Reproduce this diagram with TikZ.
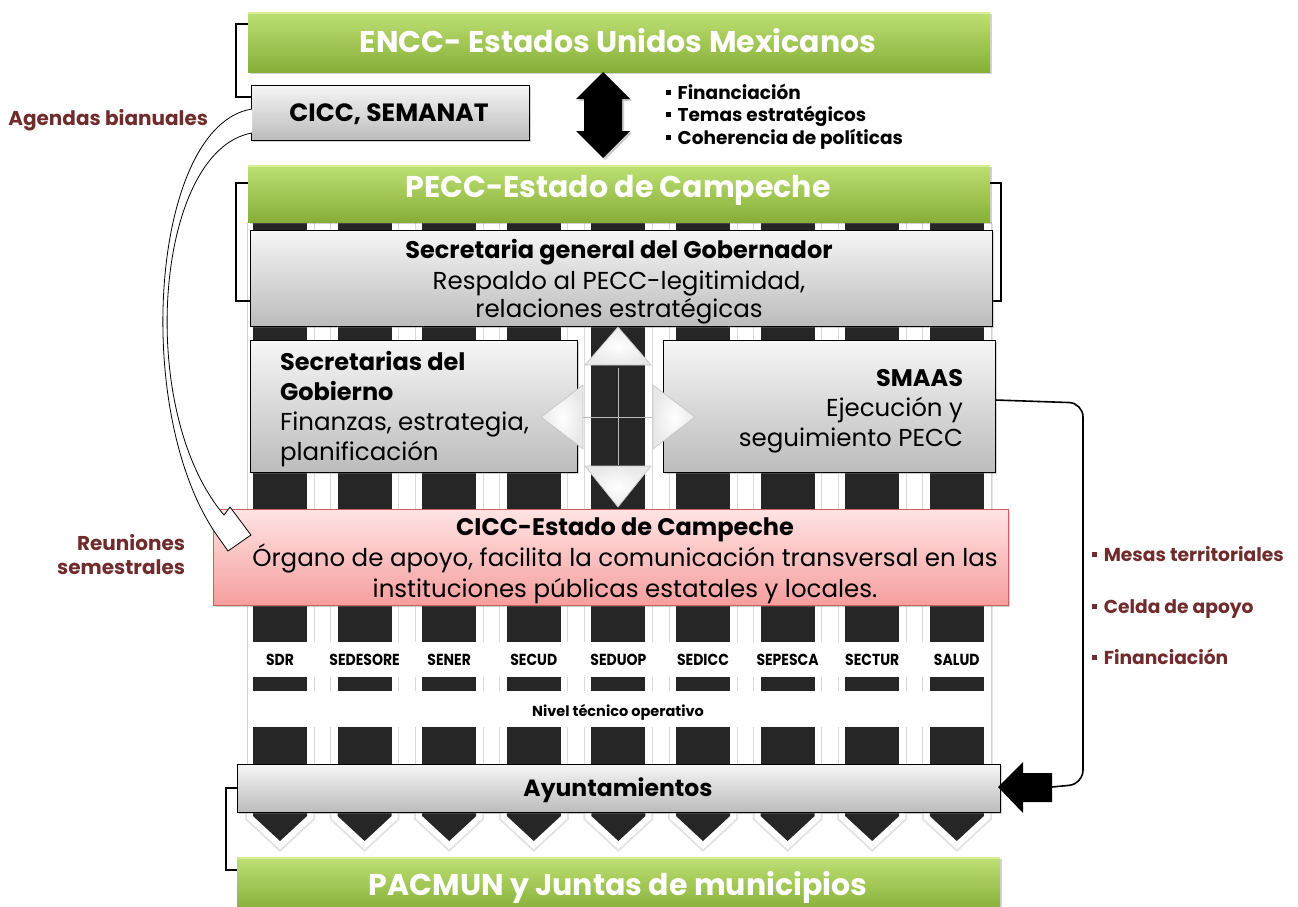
\documentclass[tikz,border=0pt]{standalone}
\usepackage{fontspec}
\usepackage{graphicx}
\setmainfont{Poppins}
\usetikzlibrary{shadows}
\definecolor{dred}{RGB}{112,44,44}
\definecolor{colblk}{RGB}{38,38,38}
\definecolor{gtop}{RGB}{190,224,116}
\definecolor{gbot}{RGB}{134,174,56}
\definecolor{gedge}{RGB}{214,238,150}
\definecolor{ptop}{RGB}{255,228,228}
\definecolor{pbot}{RGB}{246,158,158}
\definecolor{pbrd}{RGB}{205,95,95}
\definecolor{graytop}{RGB}{246,246,246}
\definecolor{graybot}{RGB}{188,188,188}
\newcommand{\fs}[1]{\fontsize{#1}{#1}\selectfont}
\newcommand{\sqb}{\rule[0.22em]{0.28em}{0.28em}\hspace{0.35em}}
\tikzset{
  box/.style={inner sep=0pt, outer sep=0pt, anchor=north west},
  greenbar/.style={box, draw=none, top color=gtop, bottom color=gbot,
     drop shadow={opacity=0.35, shadow xshift=1.5pt, shadow yshift=-2pt}},
  graybox/.style={box, draw=black, line width=1pt, top color=graytop, bottom color=graybot,
     drop shadow={opacity=0.35, shadow xshift=2pt, shadow yshift=-2pt}},
  pinkbox/.style={box, draw=pbrd, line width=1pt, top color=ptop, bottom color=pbot,
     drop shadow={opacity=0.35, shadow xshift=2pt, shadow yshift=-2pt}},
  txt/.style={inner sep=0pt, outer sep=0pt, anchor=base},
  titletxt/.style={txt, text=white, font=\bfseries\fs{30}},
  bodytxt/.style={txt, font=\fs{24.5}},
  headtxt/.style={txt, font=\bfseries\fs{24}},
  redtxt/.style={txt, text=dred, font=\bfseries\fs{18.7}},
  labtxt/.style={txt, font=\bfseries\fs{16}},
  bracket/.style={line width=2.2pt},
  bevel/.style={gedge, line width=2pt},
  tri/.style={inner color=white, outer color=gray!18, draw=gray!45, line width=0.7pt, line join=round},
}
\begin{document}
\begin{tikzpicture}[x=1pt,y=-1pt]
\useasboundingbox (0,0) rectangle (1298,906);

% background panel with stripes
\node[box, draw=gray!35, fill=white, minimum width=744pt, minimum height=590pt,
      drop shadow={opacity=0.2, shadow xshift=1.5pt, shadow yshift=-1.5pt}] (panel) at (247,222) {};
\foreach \i in {0,...,8}{
  \pgfmathsetmacro\xa{253+84.6*\i}
  \fill[colblk] (\xa,222) rectangle ++(54,420);
  \fill[colblk] (\xa,677) rectangle ++(54,14);
  \fill[colblk] (\xa,727) rectangle ++(54,40);
}
\foreach \i in {0,...,7}{
  \pgfmathsetmacro\xb{253+84.6*\i+61}
  \pgfmathsetmacro\xc{253+84.6*(\i+1)-7}
  \foreach \xx in {\xb,\xc}{
    \draw[gray!30, line width=0.8pt] (\xx,222) -- (\xx,642);
    \draw[gray!30, line width=0.8pt] (\xx,677) -- (\xx,691);
    \draw[gray!30, line width=0.8pt] (\xx,727) -- (\xx,767);
  }
}
% chevrons
\foreach \i in {0,...,8}{
  \pgfmathsetmacro\xa{253+84.6*\i}
  \draw[gray!22, line width=16pt, line join=miter]
     (\xa,806) -- (\xa+54,806) -- (\xa+54,816) -- (\xa+27,841) -- (\xa,816) -- cycle;
  \draw[white, line width=12pt, line join=miter]
     (\xa,806) -- (\xa+54,806) -- (\xa+54,816) -- (\xa+27,841) -- (\xa,816) -- cycle;
  \fill[colblk] (\xa,806) -- (\xa+54,806) -- (\xa+54,816) -- (\xa+27,841) -- (\xa,816) -- cycle;
}

% column labels
\foreach \lab [count=\i from 0] in {SDR,SEDESORE,SENER,SECUD,SEDUOP,SEDICC,SEPESCA,SECTUR,SALUD}{
  \node[labtxt] (lab\i) at (280+84.6*\i,665.6) {\scalebox{0.875}[1]{\lab}};
}
\node[txt, font=\bfseries\fs{14.5}] (nivel) at (618,716) {Nivel técnico operativo};

% top green bar and CICC SEMANAT
\node[greenbar, minimum width=742pt, minimum height=60pt] (encc) at (248,12) {};
\draw[bevel] ([yshift=-1pt]encc.north west) -- ([yshift=-1pt]encc.north east);
\node[titletxt] (encct) at (618,52.5) {ENCC- Estados Unidos Mexicanos};
\node[graybox, minimum width=278pt, minimum height=55pt] (semanat) at (251,85) {};
\node[txt, font=\bfseries\fs{25}] (semanatt) at (389,121) {CICC, SEMANAT};

% double arrow
\fill[black, drop shadow={opacity=0.4, shadow xshift=2pt, shadow yshift=-2pt}]
  (603,72) -- (630,99) -- (622,99) -- (622,131) -- (630,131) -- (603,158)
  -- (576,131) -- (584,131) -- (584,99) -- (576,99) -- cycle;
\node[txt, anchor=base west, font=\bfseries\fs{18.5}] (b1) at (666,99.5) {\sqb Financiación};
\node[txt, anchor=base west, font=\bfseries\fs{18.5}] (b2) at (666,121.5) {\sqb Temas estratégicos};
\node[txt, anchor=base west, font=\bfseries\fs{18.5}] (b3) at (666,144.5) {\sqb Coherencia de políticas};

% PECC bar + brackets
\node[greenbar, minimum width=742pt, minimum height=57pt] (pecc) at (248,165) {};
\draw[bevel] ([yshift=-1pt]pecc.north west) -- ([yshift=-1pt]pecc.north east);
\node[titletxt] (pecct) at (618,197.5) {PECC-Estado de Campeche};
\draw[bracket] (encc.west |- 0,24) -- (236,24) -- (236,97) -- (semanat.west |- 0,97);
\draw[bracket] (248,183) -- (236,183) -- (236,301) -- (250,301);
\draw[bracket] (990,183) -- (1001,183) -- (1001,301) -- (992,301);

% Secretaria general
\node[graybox, minimum width=742pt, minimum height=96pt] (sgg) at (250,230) {};
\node[headtxt] (sgg1) at (619,258.6) {Secretaria general del Gobernador};
\node[bodytxt] (sgg2) at (619,289.6) {Respaldo al PECC-legitimidad,};
\node[bodytxt] (sgg3) at (619,317.6) {relaciones estratégicas};

% Secretarias del Gobierno
\node[graybox, minimum width=327pt, minimum height=132pt] (secg) at (250,340) {};
\node[headtxt, anchor=base west] (secg1) at (280,370.6) {Secretarias del};
\node[headtxt, anchor=base west] (secg2) at (280,400.6) {Gobierno};
\node[bodytxt, anchor=base west] (secg3) at (280,430.6) {Finanzas, estrategia,};
\node[bodytxt, anchor=base west] (secg4) at (280,460.6) {planificación};

% SMAAS
\node[graybox, minimum width=332pt, minimum height=132pt] (smaas) at (663,340) {};
\node[headtxt, anchor=base east] (sm1) at (963,386.6) {SMAAS};
\node[bodytxt, anchor=base east] (sm2) at (963,416.6) {Ejecución y};
\node[bodytxt, anchor=base east] (sm3) at (963,446.6) {seguimiento PECC};

% four-way arrow
\draw[gray!55, line width=0.6pt] (618,368) -- (618,465);
\draw[gray!55, line width=0.6pt] (582,417) -- (652,417);
\draw[tri] (585,365) -- (618,327) -- (651,365) -- cycle;
\draw[tri] (585,466) -- (651,466) -- (618,507) -- cycle;
\draw[tri] (583,385) -- (541,417) -- (583,449) -- cycle;
\draw[tri] (653,385) -- (695,417) -- (653,449) -- cycle;

% CICC Estado de Campeche
\node[pinkbox, minimum width=795pt, minimum height=96pt] (cicc) at (213,509) {};
\node[headtxt] (cicc1) at (625,535.6) {CICC-Estado de Campeche};
\node[bodytxt] (cicc2) at (625,566.6) {Órgano de apoyo, facilita la comunicación transversal en las};
\node[bodytxt] (cicc3) at (625,597.6) {instituciones públicas estatales y locales.};

% curved hollow arrow (Agendas / Reuniones)
\draw[fill=white, line width=0.8pt, line join=miter]
  (252,109) .. controls (150,125) and (130,420) .. (221,541)
  -- (228,551) -- (251,535) -- (230,507) -- (224,515)
  .. controls (135,410) and (155,150) .. (252,133);
\node[redtxt, anchor=base east, font=\bfseries\fs{20}] (agendas) at (208,125) {Agendas bianuales};
\node[redtxt, anchor=base east, font=\bfseries\fs{20}] (reun1) at (185,550) {Reuniones};
\node[redtxt, anchor=base east, font=\bfseries\fs{20}] (reun2) at (185,574) {semestrales};

% Ayuntamientos and PACMUN
\node[graybox, minimum width=763pt, minimum height=48pt] (ayun) at (237,764) {};
\node[txt, font=\bfseries\fs{23.5}] (ayunt) at (618,796) {Ayuntamientos};
\node[greenbar, minimum width=763pt, minimum height=55pt] (pacmun) at (237,857) {};
\draw[bevel] ([yshift=-1pt]pacmun.north west) -- ([yshift=-1pt]pacmun.north east);
\node[titletxt] (pacmunt) at (618,895.5) {PACMUN y Juntas de municipios};
\draw[bracket, line width=1.6pt] (ayun.west) -- (226,788) -- (226,870) -- (237,870);

% right connector and block arrow
\coordinate (arrtail) at (1052,787);
\fill[black] (1052,773) -- (1023,773) -- (1023,762) -- (998,787) -- (1023,813) -- (1023,802) -- (1052,802) -- cycle;
\draw[line width=1.6pt, rounded corners=14pt] (smaas.east |- 0,400) -- (1083,403) -- (1083,784) -- (arrtail);
\node[redtxt, anchor=base west] (m1) at (1092,561.5) {\sqb Mesas territoriales};
\node[redtxt, anchor=base west] (m2) at (1092,613.5) {\sqb Celda de apoyo};
\node[redtxt, anchor=base west] (m3) at (1092,664.5) {\sqb Financiación};
\end{tikzpicture}
\end{document}
